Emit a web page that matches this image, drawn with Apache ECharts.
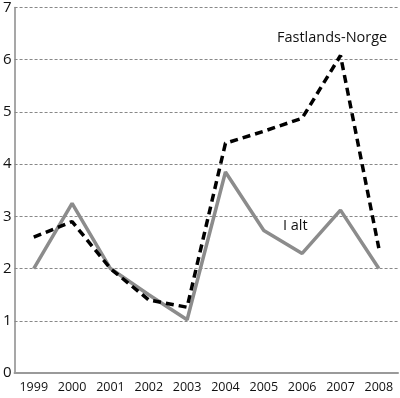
<!DOCTYPE html>
<html>
<head>
<meta charset="utf-8">
<script src="https://cdn.jsdelivr.net/npm/echarts@6/dist/echarts.min.js"></script>
<style>
  html, body { margin: 0; padding: 0; background: #fff; }
  #chart { width: 400px; height: 398px; }
</style>
</head>
<body>
<div id="chart"></div>
<script>
const years = ['1999', '2000', '2001', '2002', '2003', '2004', '2005', '2006', '2007', '2008']
const fastlandsNorge = [2.6, 2.9, 2.0, 1.4, 1.26, 4.4, 4.63, 4.88, 6.08, 2.39]
const iAlt = [2.0, 3.25, 2.0, 1.5, 1.02, 3.85, 2.73, 2.29, 3.12, 2.0]
const yTicks = [0, 7, 1] // min, max, interval

const chart = echarts.init(document.getElementById('chart'))
const font = '"Open Sans", sans-serif'

chart.setOption({
  animation: false,
  grid: { left: 14, right: 2, top: 7, bottom: 25 },
  xAxis: {
    type: 'category',
    data: years,
    boundaryGap: true,
    axisLine: { lineStyle: { color: '#9a9a9a', width: 2 } },
    axisTick: { alignWithLabel: true, inside: true, length: 10, lineStyle: { color: '#666', width: 1 } },
    axisLabel: { color: '#111', fontFamily: font, fontSize: 12.5, margin: 8 },
    splitLine: { show: false }
  },
  yAxis: {
    type: 'value',
    min: yTicks[0],
    max: yTicks[1],
    interval: yTicks[2],
    axisLine: { show: true, lineStyle: { color: '#8a8a8a', width: 1.5 } },
    axisTick: { show: false },
    axisLabel: { color: '#111', fontFamily: font, fontSize: 15, margin: 3 },
    splitLine: { lineStyle: { color: '#888', type: [3, 2], width: 1 } }
  },
  series: [
    {
      name: 'I alt',
      type: 'line',
      data: iAlt,
      symbol: 'none',
      lineStyle: { color: '#8c8c8c', width: 3.5 },
      z: 2
    },
    {
      name: 'Fastlands-Norge',
      type: 'line',
      data: fastlandsNorge,
      symbol: 'none',
      lineStyle: { color: '#000', width: 3.5, type: [8, 5] },
      z: 3
    }
  ],
  graphic: [
    {
      type: 'text',
      left: 277, top: 30,
      style: { text: 'Fastlands-Norge', font: '14.5px ' + font, fill: '#111' }
    },
    {
      type: 'text',
      left: 283, top: 218,
      style: { text: 'I alt', font: '14.5px ' + font, fill: '#111' }
    }
  ]
})
</script>
</body>
</html>
